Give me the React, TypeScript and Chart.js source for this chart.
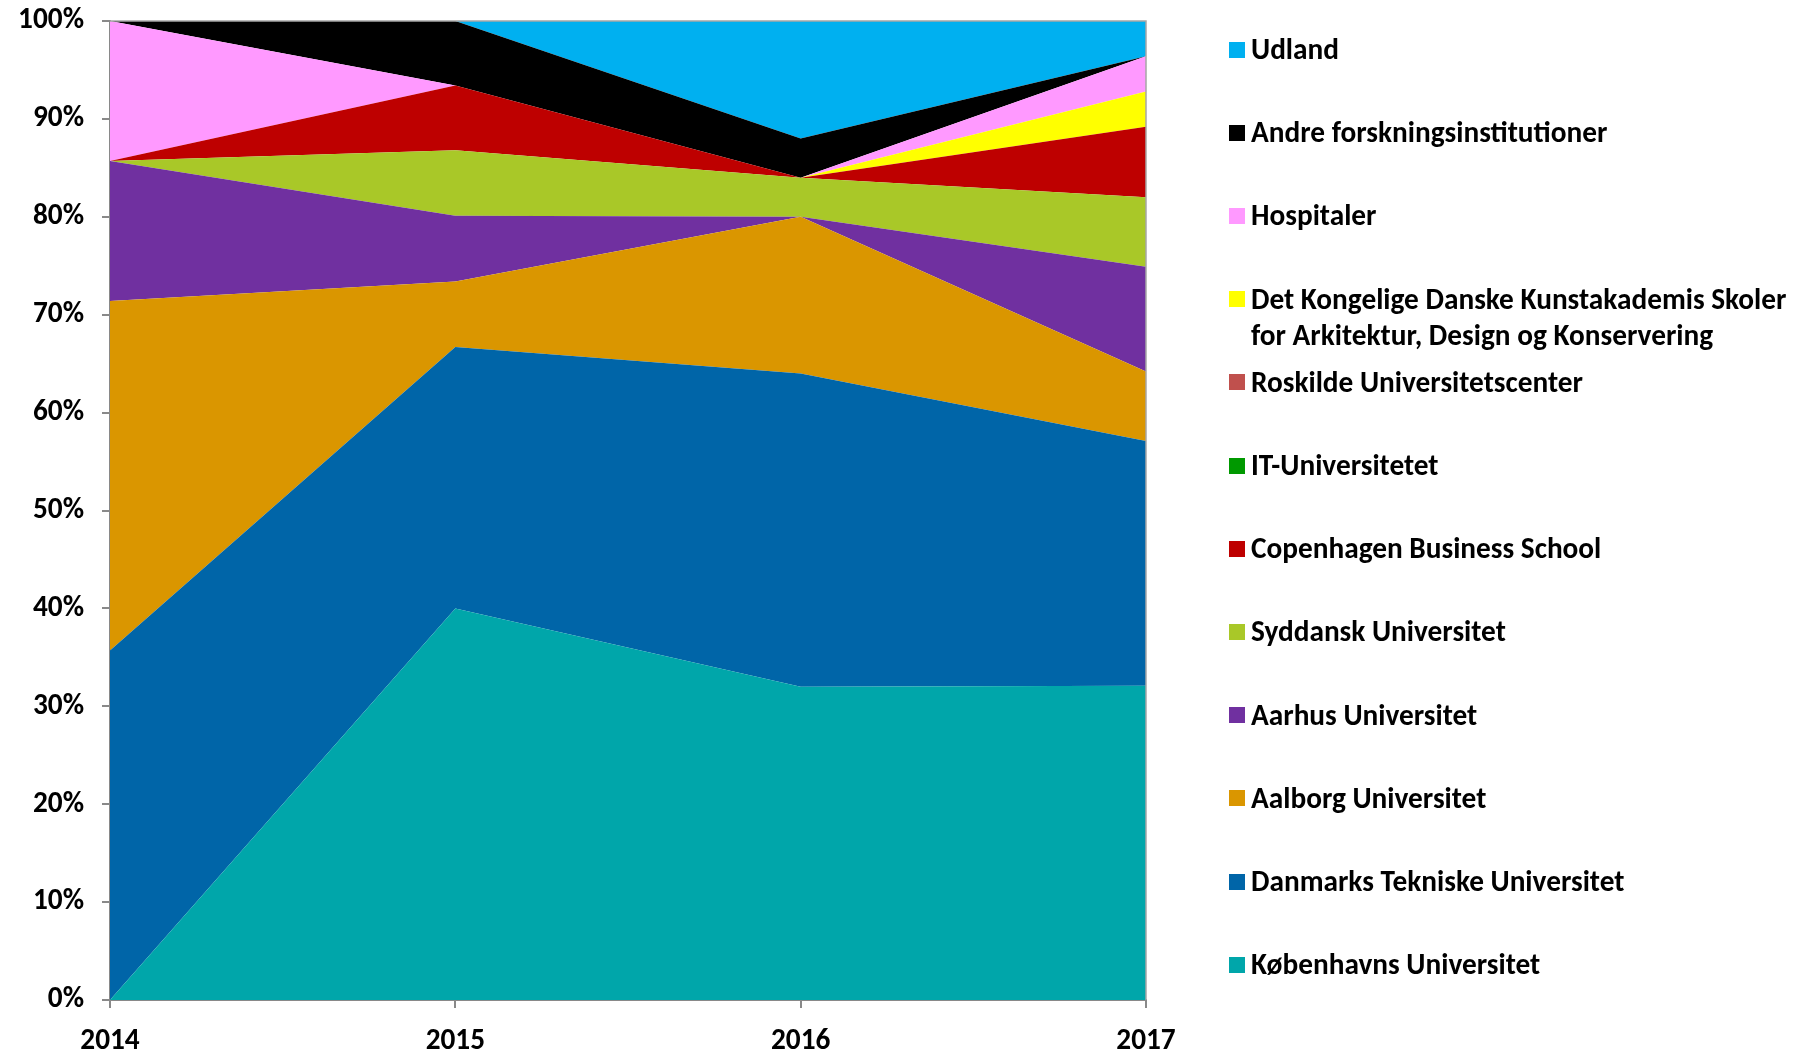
import React, { useEffect, useRef } from "react";
import { Chart, registerables } from "chart.js";

Chart.register(...registerables);

// ---------- data (percent share per year) ----------
const years = ["2014", "2015", "2016", "2017"];

const koebenhavnsUni = [0, 40, 32, 32.1];
const danmarksTekniske = [35.7, 26.7, 32, 25];
const aalborgUni = [35.7, 6.7, 16, 7.1];
const aarhusUni = [14.3, 6.7, 0, 10.7];
const syddanskUni = [0, 6.7, 4, 7.1];
const copenhagenBS = [0, 6.6, 0, 7.2];
const itUni = [0, 0, 0, 0];
const roskildeUni = [0, 0, 0, 0];
const kunstakademi = [0, 0, 0, 3.6];
const hospitaler = [14.3, 0, 0, 3.6];
const andreForskning = [0, 6.6, 4, 0];
const udland = [0, 0, 12, 3.6];

const seriesNames: (string | string[])[] = [
  "Københavns Universitet",
  "Danmarks Tekniske Universitet",
  "Aalborg Universitet",
  "Aarhus Universitet",
  "Syddansk Universitet",
  "Copenhagen Business School",
  "IT-Universitetet",
  "Roskilde Universitetscenter",
  ["Det Kongelige Danske Kunstakademis Skoler", "for Arkitektur, Design og Konservering"],
  "Hospitaler",
  "Andre forskningsinstitutioner",
  "Udland",
];
const seriesValues = [
  koebenhavnsUni,
  danmarksTekniske,
  aalborgUni,
  aarhusUni,
  syddanskUni,
  copenhagenBS,
  itUni,
  roskildeUni,
  kunstakademi,
  hospitaler,
  andreForskning,
  udland,
];
const seriesColors = [
  "#00A6AA",
  "#0065A8",
  "#DA9600",
  "#7030A0",
  "#A9C828",
  "#BE0000",
  "#009900",
  "#C0504D",
  "#FFFF00",
  "#FF99FF",
  "#000000",
  "#00B0F0",
];

const FONT_FAMILY = "Carlito, Lato, sans-serif";
const FONT_SIZE = 29.3;

const framePlugin = {
  id: "frame",
  afterDatasetsDraw(chart: any) {
    const { ctx, chartArea } = chart;
    ctx.save();
    ctx.strokeStyle = "#A6A6A6";
    ctx.lineWidth = 1.5;
    ctx.beginPath();
    ctx.moveTo(chartArea.left, chartArea.top);
    ctx.lineTo(chartArea.right, chartArea.top);
    ctx.lineTo(chartArea.right, chartArea.bottom);
    ctx.stroke();
    ctx.restore();
  },
};

export default function App() {
  const canvasRef = useRef<HTMLCanvasElement | null>(null);

  useEffect(() => {
    const canvas = canvasRef.current;
    if (!canvas) return;
    const font = { family: FONT_FAMILY, size: FONT_SIZE, weight: "bold" as const };
    const chart = new Chart(canvas, {
      type: "line",
      data: {
        labels: years,
        datasets: seriesValues.map((vals, i) => ({
          label: Array.isArray(seriesNames[i]) ? (seriesNames[i] as string[]).join(" ") : (seriesNames[i] as string),
          data: vals,
          backgroundColor: seriesColors[i],
          borderColor: seriesColors[i],
          borderWidth: 0,
          pointRadius: 0,
          fill: i === 0 ? "origin" : "-1",
          tension: 0,
        })),
      },
      options: {
        animation: false,
        responsive: false,
        maintainAspectRatio: false,
        events: [],
        layout: { padding: { top: 21, right: 657, left: 0, bottom: 0 } },
        plugins: { legend: { display: false }, tooltip: { enabled: false } },
        scales: {
          x: {
            offset: false,
            grid: { display: true, drawOnChartArea: false, tickLength: 8, color: "#898989", lineWidth: 2 },
            border: { display: true, color: "#898989", width: 2 },
            ticks: { font, color: "#000", padding: 16, maxRotation: 0 },
            afterFit: (s: any) => {
              s.height = 51;
              s.paddingLeft = 0;
              s.paddingRight = 0;
            },
          },
          y: {
            stacked: true,
            min: 0,
            max: 100,
            grid: { display: true, drawOnChartArea: false, tickLength: 8, color: "#898989", lineWidth: 2 },
            border: { display: true, color: "#898989", width: 2 },
            ticks: { stepSize: 10, font, color: "#000", padding: 18, callback: (v: any) => v + "%" },
            afterFit: (s: any) => {
              s.width = 110;
              s.paddingTop = 0;
              s.paddingBottom = 0;
            },
          },
        },
      },
      plugins: [framePlugin],
    });
    return () => chart.destroy();
  }, []);

  const legendItems = seriesNames.map((n, i) => ({ name: n, color: seriesColors[i] })).reverse();

  return (
    <div style={{ position: "fixed", left: 0, top: 0, width: 1803, height: 1051, background: "#fff" }}>
      <canvas ref={canvasRef} width={1803} height={1051} style={{ position: "absolute", left: 0, top: 0, width: 1803, height: 1051 }} />
      {legendItems.map((it, i) => {
        const center = 49.5 + 83.2 * i;
        const lines = Array.isArray(it.name) ? it.name : [it.name];
        return (
          <div key={i}>
            <div style={{ position: "absolute", left: 1229, top: center - 8, width: 16, height: 16, background: it.color }} />
            <div
              style={{
                position: "absolute",
                left: 1251,
                top: center - 18.6,
                fontFamily: FONT_FAMILY,
                fontWeight: 700,
                fontSize: FONT_SIZE,
                lineHeight: "36px",
                color: "#000",
                whiteSpace: "nowrap",
              }}
            >
              {lines.map((l, k) => (
                <div key={k}>{l}</div>
              ))}
            </div>
          </div>
        );
      })}
    </div>
  );
}
